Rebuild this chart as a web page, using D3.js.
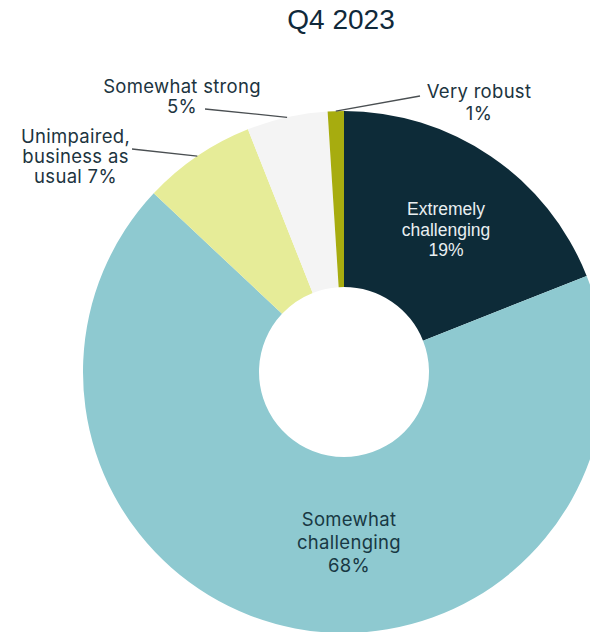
<!DOCTYPE html>
<html>
<head>
<meta charset="utf-8">
<script src="https://cdn.jsdelivr.net/npm/d3@7/dist/d3.min.js"></script>
<style>
  html, body { margin: 0; padding: 0; background: #ffffff; }
  svg { display: block; }
</style>
</head>
<body>
<script>
// Business conditions outlook, Q4 2023 (share of respondents, %)
const title = "Q4 2023";
const categories = ["Extremely challenging", "Somewhat challenging", "Unimpaired, business as usual", "Somewhat strong", "Very robust"];
const values = [19, 68, 7, 5, 1];
const labelLines = [
  ["Extremely", "challenging", "19%"],
  ["Somewhat", "challenging", "68%"],
  ["Unimpaired,", "business as", "usual 7%"],
  ["Somewhat strong", "5%"],
  ["Very robust", "1%"]
];

const colors = ["#0d2b38", "#8ec9d0", "#e6ec98", "#f4f4f4", "#a7ac0f"];
const textColors = ["#e9eff1", "#183843", "#1c3440", "#1c3440", "#1c3440"];

const W = 590, H = 632;
const cx = 344, cy = 372;
const outerR = 261, innerR = 85;

// Label layout: inside labels are placed by centre point, outside labels get a leader line
const labelLayout = [
  { inside: true, x: 446, y: 215, lh: 20.5, font: "'Liberation Sans', Arial, sans-serif", size: 17.5, ls: 0 },
  { inside: true, x: 349, y: 526, lh: 23, font: "Inter, 'Noto Sans', sans-serif", size: 18.5, ls: 0.3 },
  { inside: false, x: 75.5, y: 143, lh: 20, font: "Inter, 'Noto Sans', sans-serif", size: 18.5, ls: 0.3, lineEnd: [132, 149] },
  { inside: false, x: 182, y: 92.5, lh: 20.5, font: "Inter, 'Noto Sans', sans-serif", size: 18.5, ls: 0.3, lineEnd: [205, 109] },
  { inside: false, x: 479, y: 98, lh: 22, font: "Inter, 'Noto Sans', sans-serif", size: 18.5, ls: 0.3, lineEnd: [420, 96] }
];

const svg = d3.select("body").append("svg")
  .attr("width", W).attr("height", H);

svg.append("text")
  .attr("x", 341).attr("y", 29)
  .attr("text-anchor", "middle")
  .attr("font-family", "'Liberation Sans', Arial, sans-serif")
  .attr("font-size", 28)
  .attr("fill", "#10293a")
  .text(title);

const pie = d3.pie().sort(null).value(d => d)
  .startAngle(0).endAngle(2 * Math.PI);
const arcs = pie(values);

const arc = d3.arc().innerRadius(innerR).outerRadius(outerR);
const edgeArc = d3.arc().innerRadius(outerR).outerRadius(outerR);

const g = svg.append("g").attr("transform", `translate(${cx},${cy})`);

g.selectAll("path.slice")
  .data(arcs)
  .join("path")
  .attr("class", "slice")
  .attr("d", arc)
  .attr("fill", (d, i) => colors[i]);

// Leader lines from the outer edge of small slices to their labels
arcs.forEach((d, i) => {
  const L = labelLayout[i];
  if (L.inside) return;
  const p = edgeArc.centroid(d);
  g.append("line")
    .attr("x1", p[0]).attr("y1", p[1])
    .attr("x2", L.lineEnd[0] - cx).attr("y2", L.lineEnd[1] - cy)
    .attr("stroke", "#4a4f52")
    .attr("stroke-width", 1.3);
});

// Labels
labelLines.forEach((lines, i) => {
  const L = labelLayout[i];
  const t = svg.append("text")
    .attr("text-anchor", "middle")
    .attr("font-family", L.font)
    .attr("font-size", L.size)
    .attr("letter-spacing", L.ls)
    .attr("fill", textColors[i]);
  lines.forEach((s, k) => {
    t.append("tspan")
      .attr("x", L.x)
      .attr("y", L.y + k * L.lh)
      .text(s);
  });
});
</script>
</body>
</html>
